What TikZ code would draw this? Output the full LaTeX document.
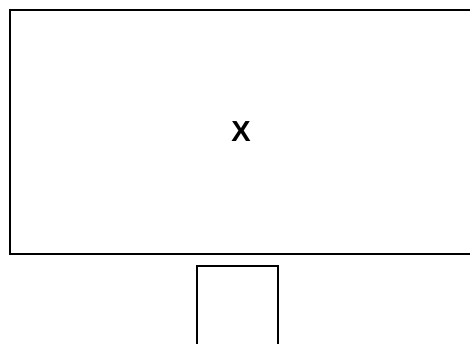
\documentclass[tikz,border=0pt]{standalone}
\usepackage{fontspec}
\setmainfont{Liberation Sans}[BoldFont={Liberation Sans Bold}]
\begin{document}
\begin{tikzpicture}[x=1pt,y=-1pt,
  frame/.style={draw=black,line width=2pt,fill=white,inner sep=0pt,outer sep=0pt}]
\useasboundingbox (0,0) rectangle (470,343);
\node[frame,minimum width=466pt,minimum height=244pt,anchor=north west] (x) at (9.5,9.5) {};
\node[font=\fontsize{29}{32}\selectfont\bfseries] (xl) at (241,132) {X};
\node[frame,minimum width=81pt,minimum height=80pt,anchor=north west] (box) at (196.5,265.5) {};
\end{tikzpicture}
\end{document}
